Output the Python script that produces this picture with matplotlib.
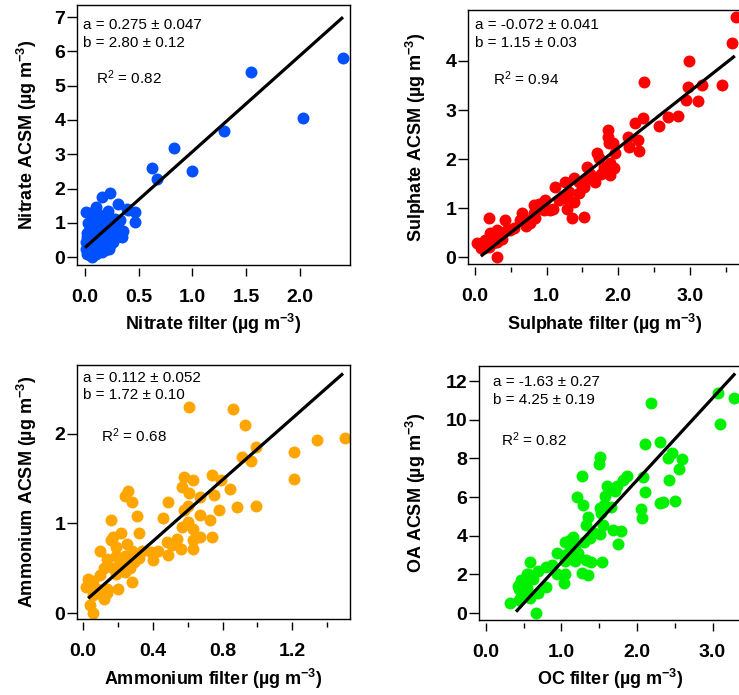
import matplotlib
matplotlib.use("Agg")
import matplotlib.pyplot as plt
import numpy as np

plt.rcParams['font.family'] = ['Liberation Sans', 'DejaVu Sans']
plt.rcParams['mathtext.fontset'] = 'custom'
plt.rcParams['mathtext.rm'] = 'Liberation Sans'
plt.rcParams['mathtext.bf'] = 'Liberation Sans:bold'
plt.rcParams['mathtext.default'] = 'regular'

# ---------------- data ----------------
nitrate_x = [2.40, 1.54, 2.03, 1.29, 0.83, 0.62, 0.67, 1.00, 0.23, 0.155, 0.31, 0.47, 0.47, 0.39,
             0.33, 0.34, 0.21, 0.10, 0.01, 0.32, 0.40, 0.33, 0.32,
             0.02, 0.03, 0.04, 0.02, 0.05, 0.03, 0.06, 0.07, 0.08, 0.09, 0.10, 0.11, 0.12, 0.13,
             0.14, 0.15, 0.16, 0.17, 0.18, 0.19, 0.20, 0.21, 0.22, 0.24, 0.25, 0.27, 0.05, 0.10,
             0.01, 0.08, 0.12, 0.06, 0.15, 0.28, 0.30, 0.02, 0.04, 0.07, 0.09, 0.11, 0.13, 0.16,
             0.18, 0.20, 0.23, 0.26, 0.01, 0.03, 0.06, 0.14, 0.17, 0.19, 0.35, 0.12, 0.22]
nitrate_y = [5.80, 5.39, 4.05, 3.68, 3.19, 2.59, 2.28, 2.52, 1.87, 1.76, 1.55, 1.32, 1.03, 1.40,
             1.08, 0.59, 1.33, 1.47, 1.32, 0.63, 1.37, 0.80, 0.63,
             0.10, 0.30, 0.50, 0.70, 0.85, 1.00, 0.20, 0.00, 0.40, 0.60, 0.80, 0.25, 0.50, 0.95,
             0.35, 0.70, 0.15, 0.55, 0.90, 0.30, 0.65, 0.45, 0.25, 0.80, 0.55, 0.70, 0.05, 0.10,
             0.45, 1.15, 1.25, 1.30, 1.00, 1.10, 0.90, 0.60, 0.75, 0.55, 0.20, 0.65, 0.30, 0.40,
             0.25, 0.95, 0.35, 0.45, 0.25, 0.15, 0.90, 0.60, 1.05, 0.20, 0.75, 0.85, 1.10]

sulphate_x = [3.65, 3.59, 2.99, 2.36, 3.45, 3.17, 2.98, 2.95, 3.12, 2.69, 2.84, 2.57, 2.34, 2.23,
              2.14, 2.27, 2.29, 2.15, 1.86, 1.86, 1.87, 1.93, 1.96, 1.71, 1.73, 1.89, 1.94, 1.89,
              1.80, 1.76, 1.68, 1.57, 1.61, 1.53, 1.38, 1.45, 1.52, 1.45, 1.38, 1.26, 1.12, 1.26,
              1.17, 1.29, 1.09, 1.05, 0.98, 0.96, 1.36, 1.52, 0.82, 0.82, 0.84, 0.77, 0.71, 0.65,
              0.63, 0.54, 0.71, 0.44, 0.42, 0.37, 0.30, 0.25, 0.19, 0.21, 0.14, 0.02, 0.12, 0.30,
              0.25, 0.31, 0.19, 0.08, 0.37, 0.49, 0.89, 1.31, 1.65, 1.80]
sulphate_y = [4.90, 4.36, 4.01, 3.58, 3.51, 3.51, 3.46, 3.20, 3.19, 2.86, 2.88, 2.68, 2.83, 2.74,
              2.46, 2.39, 2.17, 2.25, 2.59, 2.46, 2.32, 2.33, 2.12, 2.12, 2.03, 1.91, 1.81, 1.67,
              1.84, 1.70, 1.54, 1.84, 1.70, 1.60, 1.61, 1.53, 1.43, 1.30, 1.13, 1.54, 1.43, 1.20,
              1.16, 0.99, 0.99, 0.96, 1.16, 0.96, 0.79, 0.82, 1.06, 0.89, 0.79, 0.69, 0.76, 0.89,
              0.76, 0.59, 0.63, 0.55, 0.76, 0.48, 0.55, 0.48, 0.79, 0.49, 0.35, 0.28, 0.18, 0.00,
              0.28, 0.31, 0.21, 0.18, 0.38, 0.55, 1.09, 1.33, 1.57, 1.77]

ammonium_x = [1.50, 1.34, 1.21, 1.21, 0.61, 0.86, 0.93, 0.99, 0.91, 0.96, 0.79, 0.74, 0.84, 0.75,
              0.88, 0.99, 0.78, 0.58, 0.63, 0.57, 0.61, 0.67, 0.49, 0.60, 0.58, 0.67, 0.73, 0.60,
              0.57, 0.63, 0.46, 0.67, 0.74, 0.63, 0.54, 0.48, 0.51, 0.56, 0.63, 0.49, 0.43, 0.39,
              0.40, 0.34, 0.32, 0.26, 0.24, 0.28, 0.31, 0.16, 0.32, 0.22, 0.17, 0.16, 0.25, 0.19,
              0.28, 0.10, 0.19, 0.24, 0.14, 0.29, 0.27, 0.21, 0.17, 0.12, 0.24, 0.19, 0.10, 0.06,
              0.03, 0.08, 0.14, 0.20, 0.28, 0.12, 0.06, 0.04, 0.06, 0.02, 0.14, 0.08]
ammonium_y = [1.96, 1.93, 1.80, 1.50, 2.30, 2.28, 2.10, 1.85, 1.74, 1.70, 1.49, 1.54, 1.39, 1.32,
              1.18, 1.19, 1.15, 1.52, 1.49, 1.41, 1.34, 1.30, 1.24, 1.19, 1.15, 1.10, 1.04, 1.02,
              0.96, 0.94, 1.06, 0.85, 0.85, 0.81, 0.83, 0.79, 0.76, 0.72, 0.72, 0.65, 0.69, 0.68,
              0.59, 0.69, 0.61, 1.36, 1.31, 1.24, 1.08, 1.04, 0.89, 0.89, 0.85, 0.81, 0.77, 0.74,
              0.69, 0.69, 0.64, 0.64, 0.60, 0.57, 0.50, 0.57, 0.50, 0.50, 0.46, 0.44, 0.42, 0.36,
              0.38, 0.27, 0.27, 0.27, 0.35, 0.16, 0.20, 0.09, 0.00, 0.29, 0.22, 0.22]

oa_x = [3.29, 3.07, 3.10, 2.18, 2.31, 2.11, 2.47, 2.41, 2.59, 2.55, 2.43, 2.08, 2.11, 2.05,
        2.07, 2.30, 2.34, 2.50, 1.51, 1.50, 1.27, 1.87, 1.81, 1.60, 1.73, 1.71, 1.21, 1.58,
        1.56, 1.29, 1.66, 1.51, 1.53, 1.35, 1.33, 1.55, 1.51, 1.38, 1.43, 1.68, 1.79, 1.75,
        1.16, 1.11, 1.05, 1.18, 1.30, 1.11, 1.05, 0.94, 1.14, 1.22, 1.05, 1.18, 1.33, 1.39,
        1.54, 1.27, 1.35, 1.05, 1.04, 0.94, 0.80, 0.87, 0.80, 0.69, 0.58, 0.56, 0.63, 0.47,
        0.54, 0.44, 0.47, 0.69, 0.58, 0.32, 0.44, 0.67, 0.52, 0.43, 0.55]
oa_y = [11.10, 11.40, 9.76, 10.88, 8.86, 8.73, 8.29, 8.00, 7.95, 7.47, 6.88, 7.05, 6.27, 5.38,
        4.91, 5.67, 5.76, 5.81, 8.05, 7.70, 7.09, 7.09, 6.88, 6.57, 6.57, 6.30, 6.02, 6.04,
        5.60, 5.59, 5.50, 5.42, 5.15, 4.98, 4.55, 4.55, 4.10, 3.90, 4.16, 4.29, 4.26, 3.57,
        3.95, 3.78, 3.69, 3.50, 3.70, 3.25, 3.00, 3.09, 3.10, 3.10, 2.70, 2.70, 2.74, 2.66,
        2.66, 2.09, 1.95, 2.03, 1.53, 2.03, 2.40, 2.50, 1.36, 2.15, 2.66, 2.00, 1.74, 1.70,
        1.32, 1.22, 0.88, 1.05, 0.76, 0.50, 0.67, 0.00, 1.50, 1.40, 2.00]

# fit parameters (a = intercept, b = slope) and fit line x-range
fit_a = [0.275, -0.072, 0.112, -1.63]
fit_b = [2.80, 1.15, 1.72, 4.25]
fit_xrange = [(0.0, 2.40), (0.08, 3.63), (0.03, 1.49), (0.40, 3.30)]
fit_text = [("a = 0.275 \u00b1 0.047", "b = 2.80 \u00b1 0.12", "R$^{2}$ = 0.82"),
            ("a = -0.072 \u00b1 0.041", "b = 1.15 \u00b1 0.03", "R$^{2}$ = 0.94"),
            ("a = 0.112 \u00b1 0.052", "b = 1.72 \u00b1 0.10", "R$^{2}$ = 0.68"),
            ("a = -1.63 \u00b1 0.27", "b = 4.25 \u00b1 0.19", "R$^{2}$ = 0.82")]

xlabels = ["Nitrate filter (\u00b5g m$^{\\mathbf{-3}}$)", "Sulphate filter (\u00b5g m$^{\\mathbf{-3}}$)",
           "Ammonium filter (\u00b5g m$^{\\mathbf{-3}}$)", "OC filter (\u00b5g m$^{\\mathbf{-3}}$)"]
ylabels = ["Nitrate ACSM (\u00b5g m$^{\\mathbf{-3}}$)", "Sulphate ACSM (\u00b5g m$^{\\mathbf{-3}}$)",
           "Ammonium ACSM (\u00b5g m$^{\\mathbf{-3}}$)", "OA ACSM (\u00b5g m$^{\\mathbf{-3}}$)"]

xticks = [[0.0, 0.5, 1.0, 1.5, 2.0], [0.0, 1.0, 2.0, 3.0], [0.0, 0.4, 0.8, 1.2], [0.0, 1.0, 2.0, 3.0]]
xticklabels = [["0.0", "0.5", "1.0", "1.5", "2.0"], ["0.0", "1.0", "2.0", "3.0"],
               ["0.0", "0.4", "0.8", "1.2"], ["0.0", "1.0", "2.0", "3.0"]]
xminor = [[], [0.5, 1.5, 2.5, 3.5], [0.2, 0.6, 1.0, 1.4], [0.5, 1.5, 2.5]]
yticks = [[0, 1, 2, 3, 4, 5, 6, 7], [0, 1, 2, 3, 4], [0, 1, 2], [0, 2, 4, 6, 8, 10, 12]]

# ---------------- layout ----------------
W, H = 739, 695
fig = plt.figure(figsize=(W / 100, H / 100), dpi=100)

def px_rect(l, t, r, b):
    return [l / W, 1 - b / H, (r - l) / W, (b - t) / H]

rects = [px_rect(77, 5, 350, 265), px_rect(468, 10, 742, 264),
         px_rect(77, 365, 350, 619), px_rect(479, 366, 742, 620)]
xlims = [(-0.074, 2.465), (-0.10, 3.73), (-0.034, 1.53), (-0.09, 3.39)]
ylims = [(-0.23, 7.35), (-0.14, 5.04), (-0.067, 2.77), (-0.36, 12.78)]
colors = ['#0050FF', '#FF0000', '#FFA500', '#00F000']
data = [(nitrate_x, nitrate_y), (sulphate_x, sulphate_y), (ammonium_x, ammonium_y), (oa_x, oa_y)]
text_pos = [((0.022, 0.923), (0.022, 0.854), (0.07, 0.72)),
            ((0.026, 0.94), (0.026, 0.87), (0.093, 0.73)),
            ((0.022, 0.949), (0.022, 0.882), (0.088, 0.72)),
            ((0.054, 0.937), (0.054, 0.866), (0.085, 0.71))]
ylab_x = [-0.161, -0.167, -0.161, -0.215]
xlab_y = [-0.25, -0.26, -0.26, -0.256]

for i in range(4):
    ax = fig.add_axes(rects[i])
    x, y = data[i]
    ax.plot(x, y, 'o', color=colors[i], markersize=8.6, markeredgewidth=0, zorder=2)
    fx = np.array(fit_xrange[i])
    ax.plot(fx, fit_a[i] + fit_b[i] * fx, color='black', lw=2.3, solid_capstyle='butt', zorder=3)
    ax.set_xlim(*xlims[i])
    ax.set_ylim(*ylims[i])

    for s in ax.spines.values():
        s.set_linewidth(1.0)
    ax.spines['bottom'].set_position(('outward', 2.5))
    ax.spines['bottom'].set_visible(False)
    ax.plot([0, 1], [0, 0], transform=ax.transAxes, color='black', lw=1.0, clip_on=False, zorder=4)

    ax.set_xticks(xticks[i])
    ax.set_xticklabels(xticklabels[i])
    ax.set_xticks(xminor[i], minor=True)
    ax.set_yticks(yticks[i])
    ax.set_yticklabels([str(v) for v in yticks[i]])
    ax.tick_params(axis='x', which='major', direction='out', length=6, width=1.0, pad=9,
                   labelsize=14)
    ax.tick_params(axis='x', which='minor', direction='out', length=3.5, width=1.0)
    ax.tick_params(axis='y', which='major', direction='out', length=7.5, width=1.0, pad=1,
                   labelsize=14)
    for lab in ax.get_xticklabels() + ax.get_yticklabels():
        lab.set_fontweight('bold')

    ax.set_xlabel(xlabels[i], fontsize=13, fontweight='bold')
    ax.set_ylabel(ylabels[i], fontsize=13, fontweight='bold')
    ax.xaxis.label.set_va('baseline')
    ax.yaxis.label.set_va('baseline')
    ax.xaxis.set_label_coords(0.5, xlab_y[i])
    ax.yaxis.set_label_coords(ylab_x[i], 0.5)

    ta, tb, tr = fit_text[i]
    pa, pb, pr = text_pos[i]
    ax.text(pa[0], pa[1], ta, transform=ax.transAxes, fontsize=11, va='center', ha='left')
    ax.text(pb[0], pb[1], tb, transform=ax.transAxes, fontsize=11, va='center', ha='left')
    ax.text(pr[0], pr[1], tr, transform=ax.transAxes, fontsize=11, va='center', ha='left')

fig.savefig('out.png', dpi=100)
